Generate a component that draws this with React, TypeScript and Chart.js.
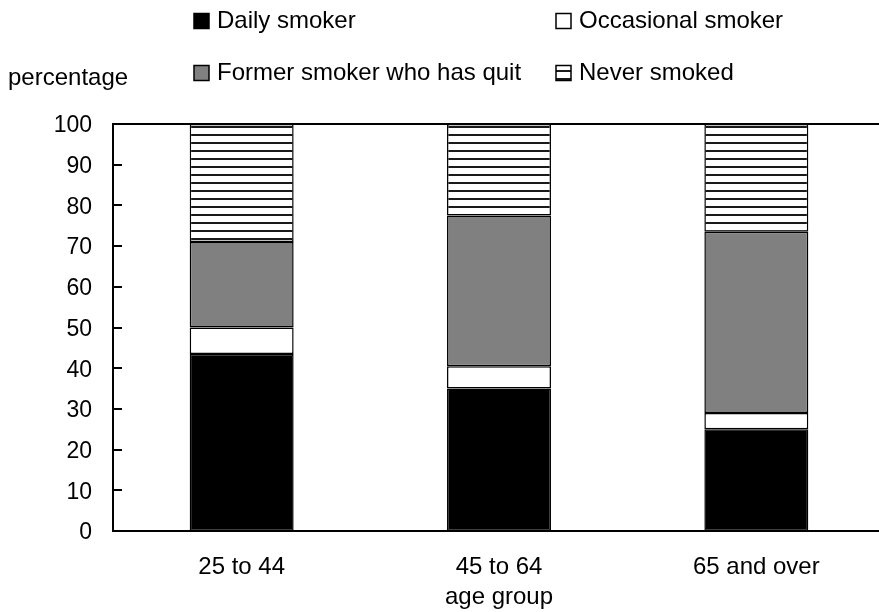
import React, { useEffect, useRef } from 'react';
import { Chart, registerables } from 'chart.js';

Chart.register(...registerables);

const categories = ['25 to 44', '45 to 64', '65 and over'];
const seriesNames = ['Daily smoker', 'Occasional smoker', 'Former smoker who has quit', 'Never smoked'];
const dailySmoker = [43.5, 35, 25];
const occasionalSmoker = [6.5, 5.5, 4];
const formerSmoker = [21, 37, 44.5];
const neverSmoked = [29, 22.5, 26.5];
const yTickMin = 0;
const yTickMax = 100;
const yTickStep = 10;
const yTitle = 'percentage';
const xTitle = 'age group';

const FONT = '"Liberation Sans", Arial, sans-serif';
const FS = 24;
const FS_Y = 23;

function makeStripePattern(): CanvasPattern | string {
  const c = document.createElement('canvas');
  c.width = 8;
  c.height = 8;
  const g = c.getContext('2d');
  if (!g) return '#fff';
  g.fillStyle = '#ffffff';
  g.fillRect(0, 0, 8, 8);
  g.fillStyle = '#1a1a1a';
  g.fillRect(0, 6, 8, 2);
  const p = g.createPattern(c, 'repeat');
  return p || '#fff';
}

const decorPlugin = {
  id: 'decor',
  afterDraw(chart: any) {
    const { ctx, chartArea: ca, scales } = chart;
    ctx.save();
    ctx.strokeStyle = '#000';
    ctx.lineWidth = 2;
    ctx.beginPath();
    ctx.moveTo(ca.left - 1, ca.top);
    ctx.lineTo(ca.right, ca.top);
    ctx.stroke();
    const ys = scales.y;
    ctx.beginPath();
    ys.ticks.forEach((t: any) => {
      const py = Math.round(ys.getPixelForValue(t.value));
      ctx.moveTo(ca.left, py);
      ctx.lineTo(ca.left + 9, py);
    });
    ctx.stroke();

    ctx.fillStyle = '#000';
    ctx.font = `${FS}px ${FONT}`;
    ctx.textBaseline = 'middle';
    ctx.textAlign = 'left';
    ctx.fillText(yTitle, 8, 78);
    ctx.textAlign = 'center';
    ctx.fillText(xTitle, (ca.left + ca.right) / 2, 597);

    // legend
    const pos = [
      [194, 21],
      [556, 21],
      [194, 73],
      [556, 73],
    ];
    const box = 15;
    chart.data.datasets.forEach((ds: any, i: number) => {
      const [x, y] = pos[i];
      ctx.fillStyle = ds.backgroundColor;
      ctx.fillRect(x, y - box / 2, box, box);
      ctx.lineWidth = 1.5;
      ctx.strokeStyle = '#000';
      ctx.strokeRect(x, y - box / 2, box, box);
      ctx.fillStyle = '#000';
      ctx.textAlign = 'left';
      ctx.fillText(ds.label, x + box + 8, y);
    });
    ctx.restore();
  },
};

export default function App() {
  const ref = useRef<HTMLCanvasElement | null>(null);
  useEffect(() => {
    if (!ref.current) return;
    const stripes = makeStripePattern();
    const mk = (label: string, data: number[], bg: any) => ({
      label,
      data,
      backgroundColor: bg,
      borderColor: '#000',
      borderWidth: 1.5,
      borderSkipped: false,
      categoryPercentage: 1,
      barPercentage: 0.404,
    });
    const chart = new Chart(ref.current, {
      type: 'bar',
      data: {
        labels: categories,
        datasets: [
          mk(seriesNames[0], dailySmoker, '#000000'),
          mk(seriesNames[1], occasionalSmoker, '#ffffff'),
          mk(seriesNames[2], formerSmoker, '#808080'),
          mk(seriesNames[3], neverSmoked, stripes),
        ],
      },
      options: {
        animation: false,
        responsive: false,
        devicePixelRatio: 1,
        layout: { padding: { top: 124, left: 0, right: 0, bottom: 0 } },
        plugins: { legend: { display: false }, tooltip: { enabled: false } },
        scales: {
          x: {
            stacked: true,
            grid: { display: false, drawTicks: false },
            border: { display: true, color: '#000', width: 2 },
            ticks: { color: '#000', font: { family: FONT, size: FS }, padding: 22 },
            afterFit: (s: any) => {
              s.height = 81;
            },
          },
          y: {
            stacked: true,
            min: yTickMin,
            max: yTickMax,
            grid: { display: false, drawTicks: false },
            border: { display: true, color: '#000', width: 2 },
            ticks: {
              stepSize: yTickStep,
              color: '#000',
              font: { family: FONT, size: FS_Y },
              padding: 21,
              labelOffset: 2,
            },
            afterFit: (s: any) => {
              s.width = 113;
            },
          },
        },
      },
      plugins: [decorPlugin],
    });
    return () => chart.destroy();
  }, []);
  return (
    <div style={{ position: 'absolute', left: 0, top: 0, width: 879, height: 612, overflow: 'hidden', background: '#fff' }}>
      <canvas ref={ref} width={885} height={612} style={{ display: 'block' }} />
    </div>
  );
}
